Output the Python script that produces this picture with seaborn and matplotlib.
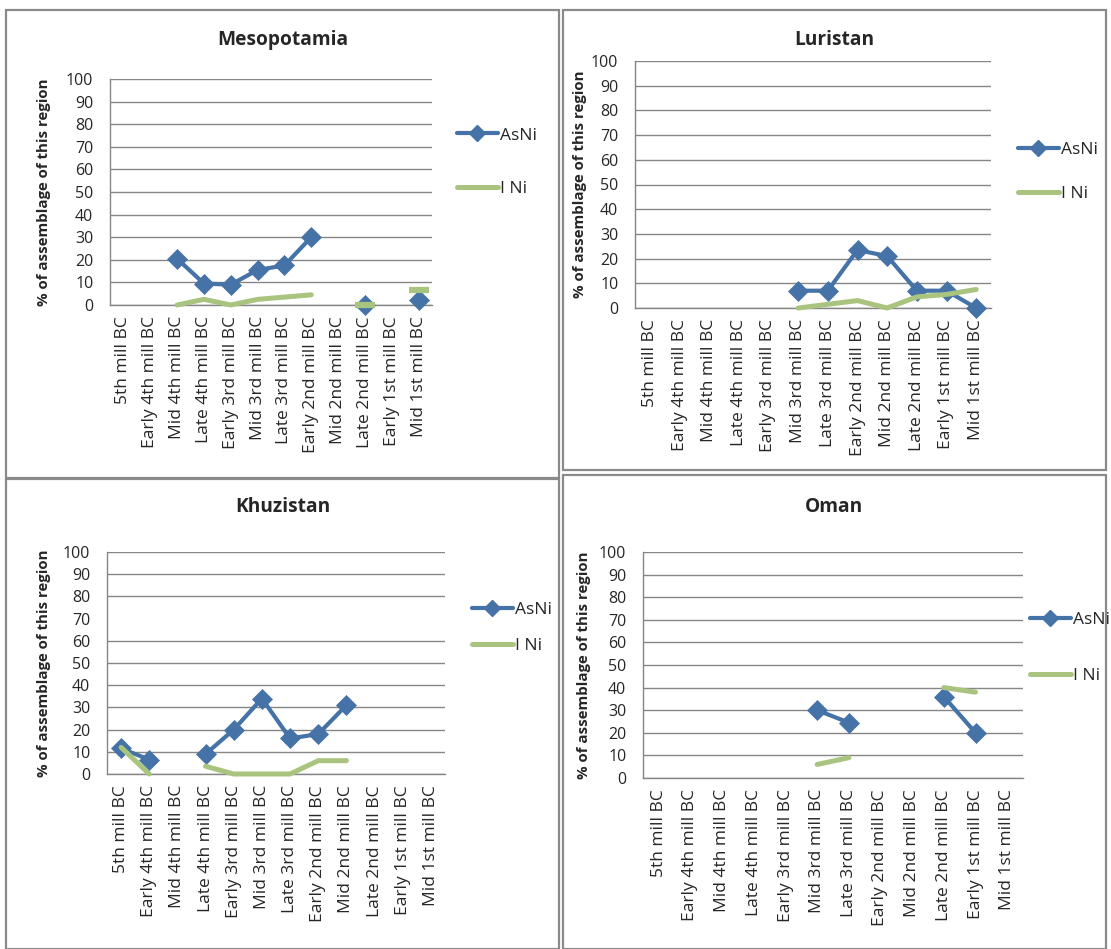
import numpy as np
import pandas as pd
import seaborn as sns
import matplotlib.pyplot as plt
from matplotlib.lines import Line2D
from matplotlib.patches import Rectangle

# periods on the x axis (same for all four charts)
periods = ["5th mill BC", "Early 4th mill BC", "Mid 4th mill BC", "Late 4th mill BC",
           "Early 3rd mill BC", "Mid 3rd mill BC", "Late 3rd mill BC", "Early 2nd mill BC",
           "Mid 2nd mill BC", "Late 2nd mill BC", "Early 1st mill BC", "Mid 1st mill BC"]

nan = np.nan
# values (% of assemblage)
meso_asni = [nan, nan, 20.5, 9.5, 9, 15.5, 17.5, 30, nan, 0, nan, 2]
meso_ini = [nan, nan, 0, 2.5, 0, 2.5, 3.5, 4.5, nan, 0, nan, 6.5]
lur_asni = [nan, nan, nan, nan, nan, 7, 7, 23.5, 21, 7, 7, 0]
lur_ini = [nan, nan, nan, nan, nan, 0, 1.5, 3, 0, 4.5, 5.5, 7.5]
khu_asni = [11.5, 6.5, nan, 9, 20, 34, 16, 18, 31, nan, nan, nan]
khu_ini = [12, 0, nan, 3.5, 0, 0, 0, 6, 6, nan, nan, nan]
oman_asni = [nan, nan, nan, nan, nan, 30, 24.5, nan, nan, 36, 20, nan]
oman_ini = [nan, nan, nan, nan, nan, 6, 9, nan, nan, 40, 38, nan]

BLUE = "#4572A7"
GREEN = "#A9C47F"
GRID = "#868686"

sns.set_style("white")
plt.rcParams["font.family"] = ["Open Sans", "DejaVu Sans"]

W, H = 1111, 949
fig = plt.figure(figsize=(W / 100, H / 100), dpi=100)


def fx(px):
    return px / W


def fy(py):
    return 1 - py / H


def segments(vals):
    segs, cur = [], []
    for i, v in enumerate(vals):
        if np.isnan(v):
            if cur:
                segs.append(cur)
            cur = []
        else:
            cur.append(i)
    if cur:
        segs.append(cur)
    return segs


def panel(box, area, title, title_y, asni, ini, ylab_x, leg_x, leg_y, leg_sp, skip_grid=None):
    # border of the excel chart
    bx0, by0, bx1, by1 = box
    fig.add_artist(Rectangle((fx(bx0), fy(by1)), fx(bx1 - bx0), (by1 - by0) / H,
                             transform=fig.transFigure, fill=False, ec="#8a8a8a", lw=1.6))
    x0, y0, x1, y1 = area
    ax = fig.add_axes([fx(x0), fy(y1), fx(x1 - x0), (y1 - y0) / H])

    df = pd.DataFrame({"x": np.arange(len(periods)), "AsNi": asni, "I Ni": ini})
    for seg in segments(asni):
        d = df.iloc[seg]
        sns.lineplot(data=d, x="x", y="AsNi", ax=ax, color=BLUE, lw=3, marker="D",
                     markersize=10.5, mec=BLUE, mew=0.5, estimator=None, legend=False,
                     clip_on=False, zorder=3)
    for seg in segments(ini):
        d = df.iloc[seg]
        if len(seg) == 1:
            sns.lineplot(data=d, x="x", y="I Ni", ax=ax, color=GREEN, marker="_",
                         markersize=14, mew=4.5, mec=GREEN, estimator=None, legend=False,
                         clip_on=False, zorder=4)
        else:
            sns.lineplot(data=d, x="x", y="I Ni", ax=ax, color=GREEN, lw=3.6,
                         estimator=None, legend=False, clip_on=False, zorder=4)

    ax.set_xlim(-0.5, len(periods) - 0.5)
    ax.set_ylim(0, 100)
    ax.set_yticks(range(0, 101, 10))
    ax.set_xticks(range(len(periods)))
    ax.set_xticklabels(periods, rotation=90, fontsize=12.5)
    ax.tick_params(axis="y", labelsize=11.5, pad=12, length=0)
    ax.tick_params(axis="x", pad=8, length=0)
    ax.yaxis.grid(True, color=GRID, lw=1)
    if skip_grid is not None:
        ax.get_ygridlines()[skip_grid].set_visible(False)
    for s in ["top", "right"]:
        ax.spines[s].set_visible(False)
    for s in ["left", "bottom"]:
        ax.spines[s].set_color(GRID)
        ax.spines[s].set_linewidth(1)
    ax.set_xlabel("")
    ax.set_ylabel("% of assemblage of this region", fontsize=10.8, fontweight="bold")
    ax.yaxis.set_label_coords((ylab_x - x0) / (x1 - x0), 0.5)

    fig.text(fx((bx0 + bx1) / 2), fy(title_y), title, ha="center", va="center",
             fontsize=13.8, fontweight="bold")

    handles = [Line2D([], [], color=BLUE, lw=3, marker="D", markersize=8),
               Line2D([], [], color=GREEN, lw=3.6)]
    ax.legend(handles, ["AsNi", "I Ni"], loc="center left",
              bbox_to_anchor=(fx(leg_x), fy(leg_y)), bbox_transform=fig.transFigure,
              frameon=False, fontsize=12.5, labelspacing=leg_sp, handlelength=2.35,
              handletextpad=0.1, borderpad=0, borderaxespad=0)


panel((6, 10, 559, 478), (110, 79, 432, 305), "Mesopotamia", 40,
      meso_asni, meso_ini, 51, 457, 162, 2.13)
panel((563, 10, 1106, 470), (635, 61, 991, 308), "Luristan", 40,
      lur_asni, lur_ini, 587, 1018, 172, 1.56)
panel((6, 479, 559, 949), (107, 552, 445, 774), "Khuzistan", 507,
      khu_asni, khu_ini, 51, 472, 628, 1.1, skip_grid=7)
panel((563, 475, 1106, 949), (643, 552, 1023, 778), "Oman", 507,
      oman_asni, oman_ini, 591, 1030, 648, 2.3)

fig.savefig("out.png", dpi=100)
